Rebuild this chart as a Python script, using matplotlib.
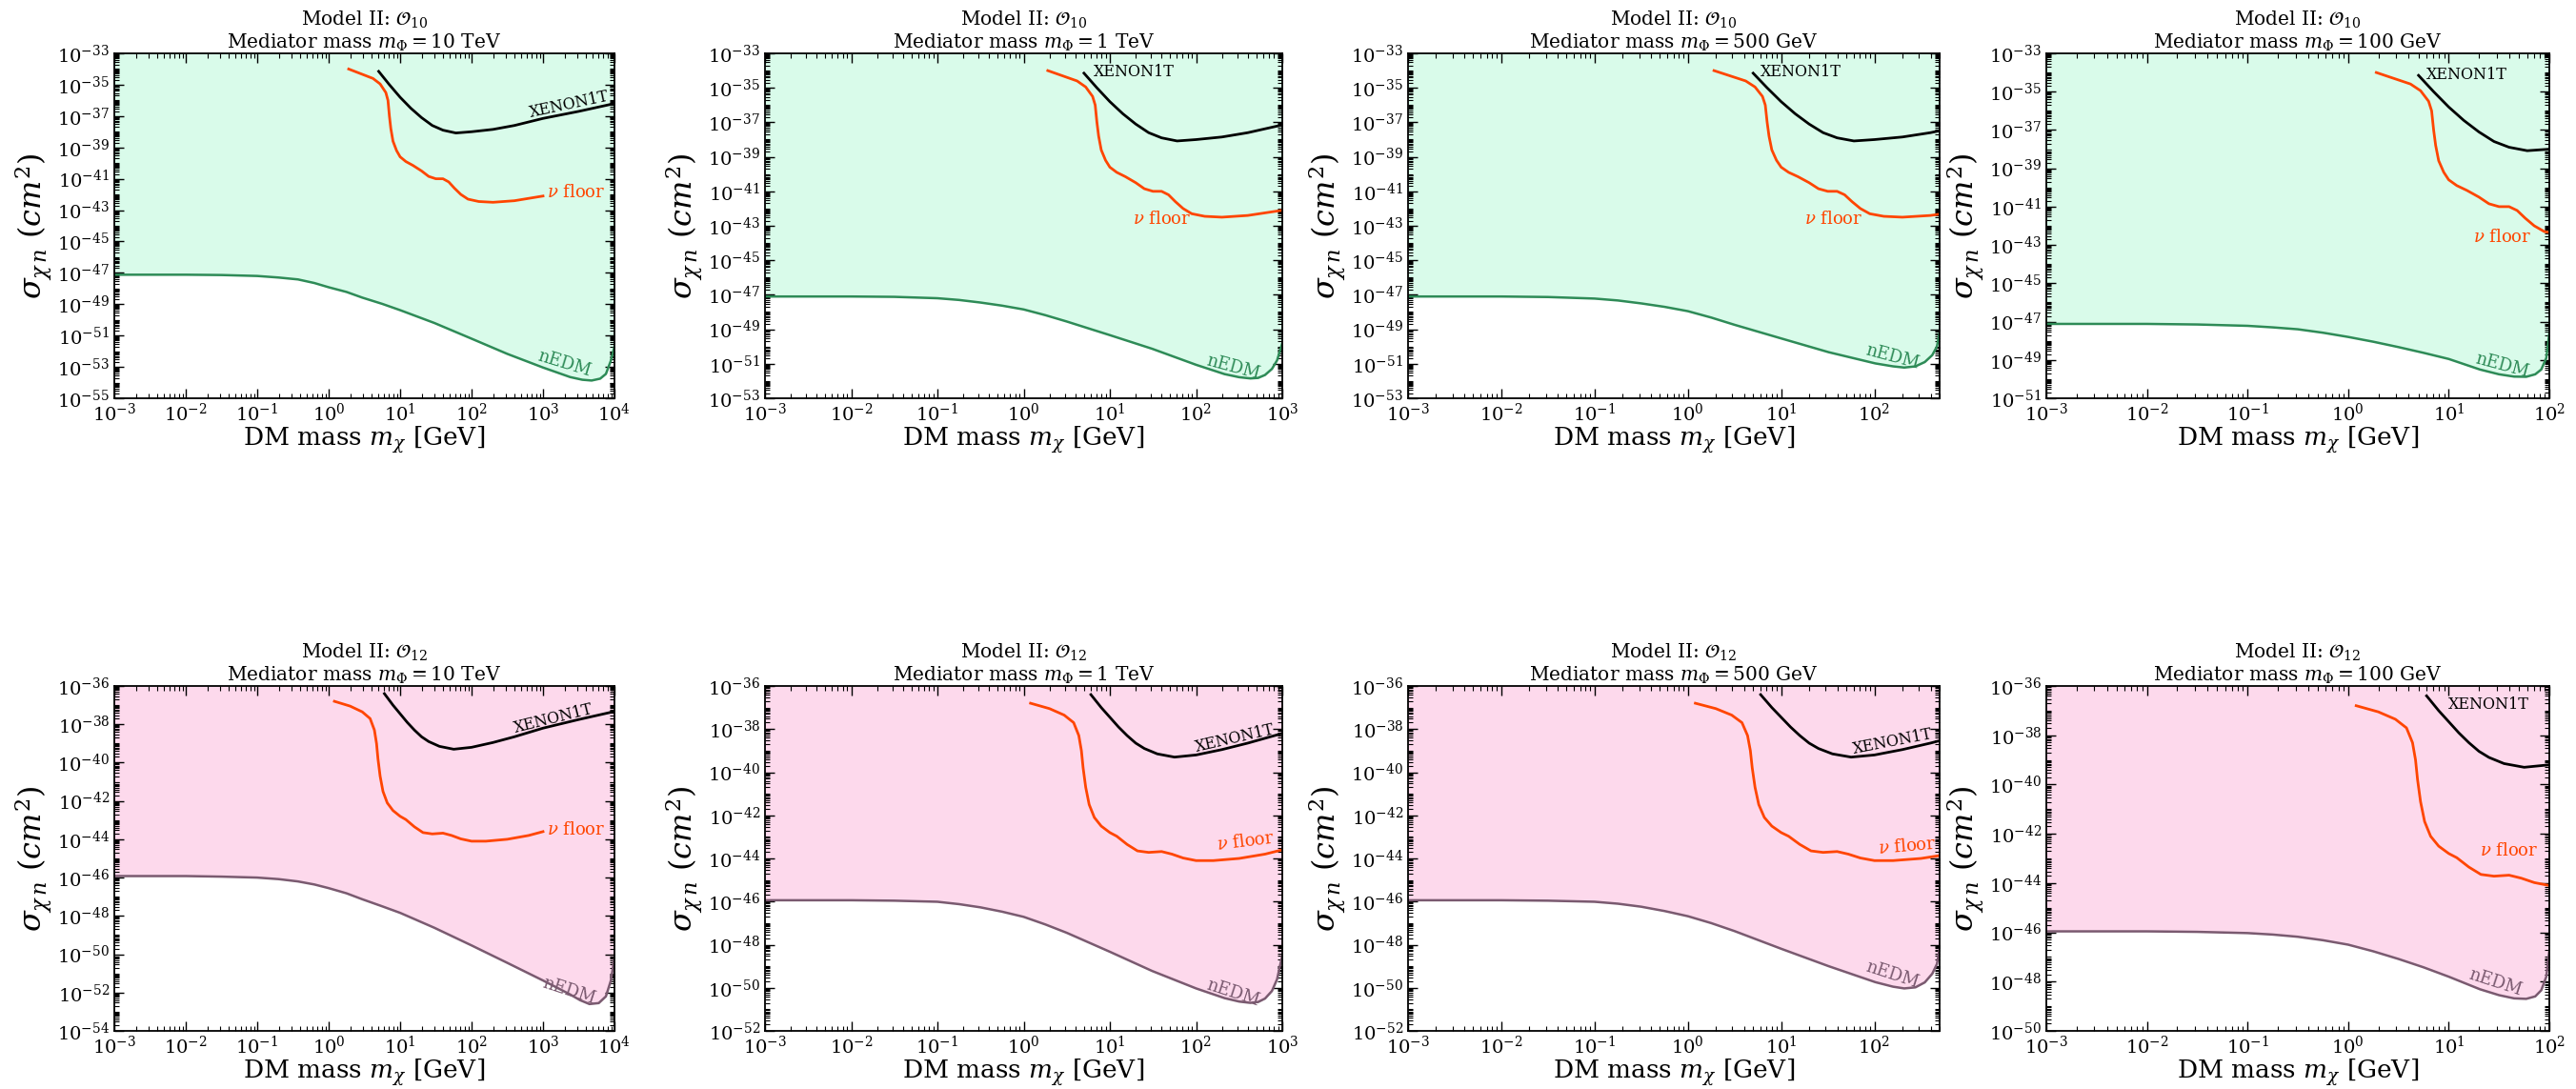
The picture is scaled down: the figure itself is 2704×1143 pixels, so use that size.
import numpy as np
import matplotlib
matplotlib.use("Agg")
import matplotlib.pyplot as plt
from matplotlib.ticker import LogLocator, NullFormatter

plt.rcParams['font.family'] = 'serif'
plt.rcParams['font.serif'] = ['DejaVu Serif']
plt.rcParams['mathtext.fontset'] = 'dejavuserif'

# ---- curves (log10 of mass in GeV, log10 of sigma in cm^2) ----
# XENON1T and neutrino floor are the same in every panel of a row
xenon_o10_m = [0.70, 0.85, 1.0, 1.15, 1.3, 1.45, 1.6, 1.78, 2.0, 2.3, 2.6, 3.0, 3.5, 4.0]
xenon_o10_s = [-34.15, -35.0, -35.8, -36.5, -37.1, -37.6, -37.9, -38.08, -38.0, -37.85,
               -37.6, -37.15, -36.7, -36.2]
floor_o10_m = [0.28, 0.45, 0.62, 0.72, 0.80, 0.83, 0.85, 0.87, 0.90, 0.95, 1.0, 1.08, 1.18,
               1.30, 1.40, 1.50, 1.60, 1.68, 1.76, 1.85, 1.95, 2.1, 2.3, 2.6, 3.0]
floor_o10_s = [-34.0, -34.3, -34.6, -34.95, -35.5, -36.0, -37.0, -37.8, -38.6, -39.2, -39.6,
               -39.9, -40.15, -40.5, -40.85, -41.0, -41.0, -41.2, -41.6, -42.0, -42.3, -42.45,
               -42.5, -42.4, -42.1]

xenon_o12_m = [0.78, 0.9, 1.0, 1.1, 1.2, 1.3, 1.4, 1.55, 1.75, 2.0, 2.3, 2.6, 3.0, 3.5, 4.0]
xenon_o12_s = [-36.4, -37.0, -37.45, -37.9, -38.3, -38.65, -38.9, -39.15, -39.3, -39.2,
               -38.95, -38.65, -38.2, -37.75, -37.33]
floor_o12_m = [0.08, 0.3, 0.47, 0.58, 0.64, 0.67, 0.69, 0.72, 0.76, 0.82, 0.9, 1.0, 1.08, 1.2,
               1.32, 1.45, 1.6, 1.72, 1.85, 2.0, 2.2, 2.5, 2.8, 3.0]
floor_o12_s = [-36.8, -37.05, -37.35, -37.7, -38.3, -39.0, -39.8, -40.7, -41.5, -42.1, -42.5,
               -42.8, -42.97, -43.35, -43.65, -43.72, -43.68, -43.8, -43.98, -44.1, -44.1,
               -44.0, -43.8, -43.6]

# nEDM bound, one per mediator mass
nedm_o10_10tev_m = [-3, -2, -1.5, -1, -0.7, -0.43, -0.2, 0, 0.25, 0.47, 0.75, 1.0, 1.48, 2.0,
                    2.5, 3.0, 3.38, 3.55, 3.68, 3.8, 3.88, 3.95, 4.0]
nedm_o10_10tev_s = [-47.12, -47.12, -47.14, -47.2, -47.3, -47.42, -47.65, -47.92, -48.22,
                    -48.58, -48.98, -49.38, -50.2, -51.2, -52.17, -53.04, -53.65, -53.82,
                    -53.87, -53.75, -53.45, -52.6, -51.7]
nedm_o10_1tev_m = [-3, -2, -1.5, -1, -0.75, -0.5, -0.25, 0, 0.25, 0.5, 1.0, 1.49, 2.0, 2.33,
                   2.5, 2.63, 2.72, 2.8, 2.88, 2.94, 3.0]
nedm_o10_1tev_s = [-47.1, -47.1, -47.12, -47.2, -47.3, -47.45, -47.63, -47.85, -48.18, -48.55,
                   -49.34, -50.13, -51.06, -51.6, -51.78, -51.85, -51.82, -51.65, -51.3,
                   -50.8, -49.8]
nedm_o10_500gev_m = [-3, -2, -1.5, -1, -0.75, -0.5, -0.25, 0, 0.25, 0.5, 1.0, 1.51, 2.01, 2.2,
                     2.32, 2.44, 2.54, 2.62, 2.67, 2.699]
nedm_o10_500gev_s = [-47.1, -47.1, -47.13, -47.22, -47.33, -47.5, -47.7, -47.95, -48.32,
                     -48.74, -49.53, -50.33, -50.98, -51.15, -51.22, -51.15, -50.9, -50.5,
                     -50.0, -49.2]
nedm_o10_100gev_m = [-3, -2, -1.5, -1, -0.75, -0.5, -0.25, 0, 0.25, 0.5, 0.75, 1.0, 1.31, 1.5,
                     1.65, 1.77, 1.86, 1.92, 1.97, 2.0]
nedm_o10_100gev_s = [-47.12, -47.12, -47.15, -47.22, -47.3, -47.4, -47.58, -47.8, -48.05,
                     -48.33, -48.63, -48.95, -49.5, -49.75, -49.87, -49.88, -49.75, -49.5,
                     -48.9, -47.6]

nedm_o12_10tev_m = [-3, -2, -1.5, -1, -0.7, -0.43, -0.2, 0, 0.25, 0.47, 0.75, 1.0, 1.48, 2.0,
                    2.5, 3.0, 3.38, 3.52, 3.65, 3.78, 3.88, 3.95, 4.0]
nedm_o12_10tev_s = [-45.92, -45.92, -45.95, -46.0, -46.08, -46.2, -46.36, -46.55, -46.82,
                    -47.13, -47.5, -47.84, -48.62, -49.54, -50.45, -51.37, -52.1, -52.4,
                    -52.6, -52.55, -52.2, -51.37, -50.2]
nedm_o12_1tev_m = [-3, -2, -1.5, -1, -0.75, -0.5, -0.25, 0, 0.25, 0.5, 1.0, 1.49, 2.0, 2.33,
                   2.5, 2.63, 2.72, 2.8, 2.88, 2.94, 3.0]
nedm_o12_1tev_s = [-45.94, -45.94, -45.96, -46.01, -46.12, -46.27, -46.47, -46.71, -47.06,
                   -47.45, -48.33, -49.22, -50.03, -50.48, -50.64, -50.7, -50.66, -50.5,
                   -50.15, -49.6, -48.5]
nedm_o12_500gev_m = [-3, -2, -1.5, -1, -0.75, -0.5, -0.25, 0, 0.25, 0.5, 1.0, 1.51, 2.01, 2.2,
                     2.32, 2.44, 2.54, 2.62, 2.67, 2.699]
nedm_o12_500gev_s = [-45.94, -45.94, -45.96, -46.01, -46.1, -46.24, -46.44, -46.68, -47.0,
                     -47.37, -48.19, -49.0, -49.74, -49.95, -50.03, -49.98, -49.75, -49.35,
                     -48.9, -48.19]
nedm_o12_100gev_m = [-3, -2, -1.5, -1, -0.75, -0.5, -0.25, 0, 0.25, 0.5, 0.75, 1.0, 1.31, 1.5,
                     1.65, 1.77, 1.86, 1.92, 1.97, 2.0]
nedm_o12_100gev_s = [-45.96, -45.96, -45.98, -46.03, -46.09, -46.18, -46.32, -46.5, -46.77,
                     -47.08, -47.42, -47.8, -48.31, -48.55, -48.68, -48.7, -48.6, -48.35,
                     -47.8, -46.76]

mediators = ['10 TeV', '1 TeV', '500 GeV', '100 GeV']
x_max = [1e4, 1e3, 500, 1e2]
y_lim_o10 = [(-55, -33), (-53, -33), (-53, -33), (-51, -33)]
y_lim_o12 = [(-54, -36), (-52, -36), (-52, -36), (-50, -36)]

# label anchors (log m, log sigma, rotation, ha) per panel: XENON1T, nu floor, nEDM
labels_o10 = [
    [(3.36, -36.27, 12, 'center'), (3.06, -41.9, 0, 'left'), (3.3, -52.8, -17, 'center')],
    [(0.81, -34.05, 0, 'left'), (1.6, -42.6, 0, 'center'), (2.43, -51.2, -15, 'center')],
    [(0.78, -34.05, 0, 'left'), (1.56, -42.6, 0, 'center'), (2.19, -50.6, -15, 'center')],
    [(0.78, -34.1, 0, 'left'), (1.53, -42.6, 0, 'center'), (1.53, -49.3, -15, 'center')],
]
labels_o12 = [
    [(3.15, -37.7, 14, 'center'), (3.06, -43.5, 0, 'left'), (3.36, -51.9, -18, 'center')],
    [(2.45, -38.44, 13, 'center'), (2.58, -43.24, 7, 'center'), (2.43, -50.25, -18, 'center')],
    [(2.2, -38.6, 11, 'center'), (2.35, -43.46, 5, 'center'), (2.19, -49.4, -18, 'center')],
    [(1.0, -36.75, 0, 'left'), (1.6, -42.7, 0, 'center'), (1.46, -48.05, -18, 'center')],
]

W, H = 2704, 1143
LEFTS = [120, 803, 1478, 2148]
WIDTHS = [525, 543, 558, 528]
TOPS = [56, 720]
AX_H = 362

rows = [
    dict(op=r'$\mathcal{O}_{10}$', xenon=(xenon_o10_m, xenon_o10_s), floor=(floor_o10_m, floor_o10_s),
         nedm=[(nedm_o10_10tev_m, nedm_o10_10tev_s), (nedm_o10_1tev_m, nedm_o10_1tev_s),
               (nedm_o10_500gev_m, nedm_o10_500gev_s), (nedm_o10_100gev_m, nedm_o10_100gev_s)],
         ylims=y_lim_o10, labels=labels_o10, line='#2e8b57', fill='#d9fbea'),
    dict(op=r'$\mathcal{O}_{12}$', xenon=(xenon_o12_m, xenon_o12_s), floor=(floor_o12_m, floor_o12_s),
         nedm=[(nedm_o12_10tev_m, nedm_o12_10tev_s), (nedm_o12_1tev_m, nedm_o12_1tev_s),
               (nedm_o12_500gev_m, nedm_o12_500gev_s), (nedm_o12_100gev_m, nedm_o12_100gev_s)],
         ylims=y_lim_o12, labels=labels_o12, line='#7a5a70', fill='#fdd9ec'),
]

FLOOR_C = '#ff4500'

fig = plt.figure(figsize=(W / 100, H / 100), dpi=100)

for r, row in enumerate(rows):
    for c in range(4):
        rect = [LEFTS[c] / W, (H - TOPS[r] - AX_H) / H, WIDTHS[c] / W, AX_H / H]
        ax = fig.add_axes(rect)
        ax.set_xscale('log')
        ax.set_yscale('log')
        ylo, yhi = row['ylims'][c]
        ax.set_xlim(1e-3, x_max[c])
        ax.set_ylim(10.0 ** ylo, 10.0 ** yhi)

        nm, ns = row['nedm'][c]
        nm = 10.0 ** np.array(nm)
        ns = 10.0 ** np.array(ns)
        ax.fill_between(nm, ns, 10.0 ** yhi, color=row['fill'], lw=0)
        ax.plot(nm, ns, color=row['line'], lw=1.8)

        xm, xs = row['xenon']
        ax.plot(10.0 ** np.array(xm), 10.0 ** np.array(xs), color='black', lw=2.0)
        fm, fs = row['floor']
        ax.plot(10.0 ** np.array(fm), 10.0 ** np.array(fs), color=FLOOR_C, lw=2.0)

        lx, lf, le = row['labels'][c]
        ax.text(10 ** lx[0], 10 ** lx[1], 'XENON1T', rotation=lx[2], ha=lx[3], va='center',
                fontsize=11.5, color='black', rotation_mode='anchor')
        ax.text(10 ** lf[0], 10 ** lf[1], r'$\nu$ floor', rotation=lf[2], ha=lf[3], va='center',
                fontsize=13, color=FLOOR_C, rotation_mode='anchor')
        ax.text(10 ** le[0], 10 ** le[1], 'nEDM', rotation=le[2], ha=le[3], va='center',
                fontsize=13, color=row['line'], rotation_mode='anchor')

        ax.xaxis.set_major_locator(LogLocator(base=10, numticks=20))
        ax.xaxis.set_minor_locator(LogLocator(base=10, subs=np.arange(2, 10), numticks=20))
        ax.xaxis.set_minor_formatter(NullFormatter())
        ax.set_yticks(10.0 ** np.arange(ylo, yhi + 1, 2))
        ax.yaxis.set_minor_locator(LogLocator(base=10, subs=np.arange(1, 10), numticks=40))
        ax.yaxis.set_minor_formatter(NullFormatter())
        ax.tick_params(which='both', direction='in', top=True, right=True, labelsize=14)
        ax.tick_params(which='major', length=7, width=1.0)
        ax.tick_params(which='minor', length=3.5, width=0.8)
        ax.tick_params(axis='x', which='major', pad=3)
        for sp in ax.spines.values():
            sp.set_linewidth(1.3)

        ax.set_xlabel(r'DM mass $m_\chi$ [GeV]', fontsize=19, labelpad=0)
        ax.set_ylabel(r'$\sigma_{\chi\, n}\ (cm^2)$', fontsize=23, labelpad=2)
        ax.set_title('Model II: ' + row['op'] + '\n' + r'Mediator mass $m_\Phi = $' + mediators[c],
                     fontsize=14.5, pad=4, linespacing=1.1)

fig.savefig('out.png', dpi=100)
